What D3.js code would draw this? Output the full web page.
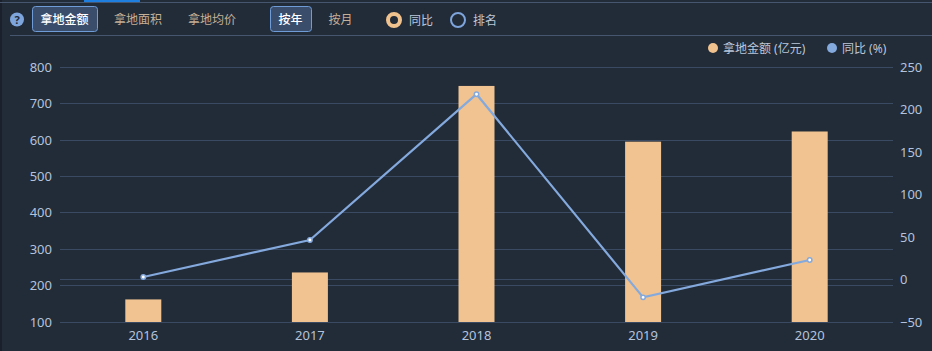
<!DOCTYPE html>
<html>
<head>
  <meta charset="utf-8">
  <title>拿地金额</title>
  <script src="https://d3js.org/d3.v7.min.js"></script>
  <style>
    html, body { margin: 0; padding: 0; background: #222b38; overflow: hidden; }
    text { font-family: "Noto Sans", "Noto Sans CJK SC", sans-serif; }
  </style>
</head>
<body>
  <svg id="chart"></svg>

  <script>
    // 数据
    var years = ["2016", "2017", "2018", "2019", "2020"];
    var amounts = [162, 236, 748, 595, 623];
    var yoy = [3, 46.5, 218, -21, 23];
    var leftTicks = [100, 200, 300, 400, 500, 600, 700, 800];
    var rightTicks = [-50, 0, 50, 100, 150, 200, 250];
    var metricTabs = ["拿地金额", "拿地面积", "拿地均价"];
    var periodTabs = ["按年", "按月"];
    var radios = ["同比", "排名"];
    var legendLabels = ["拿地金额 (亿元)", "同比 (%)"];

    var width = 932, height = 351;
    var plotLeft = 60, plotRight = 893, plotTop = 67, plotBottom = 322;

    var svg = d3.select("#chart")
      .attr("width", width)
      .attr("height", height)
      .style("display", "block");

    svg.append("rect").attr("width", width).attr("height", height).attr("fill", "#222b38");
    svg.append("rect").attr("width", 2).attr("height", height).attr("fill", "#1a212c");

    // 顶部线条
    svg.append("rect").attr("x", 0).attr("y", 2).attr("width", width).attr("height", 1).attr("fill", "#46566f");
    svg.append("rect").attr("x", 84).attr("y", 0).attr("width", 56).attr("height", 2).attr("fill", "#1e7fe0");
    svg.append("rect").attr("x", 10).attr("y", 35).attr("width", width - 10).attr("height", 1).attr("fill", "#46566f");

    // 帮助图标
    svg.append("circle").attr("cx", 17).attr("cy", 19.5).attr("r", 7).attr("fill", "#7ea6dc");
    svg.append("text").attr("x", 17).attr("y", 23.5).attr("text-anchor", "middle")
      .attr("font-size", 11).attr("font-weight", "bold").attr("fill", "#222b38").text("?");

    // 按钮
    function tabs(labels, xs, w) {
      labels.forEach(function(d, i) {
        if (i === 0) {
          svg.append("rect").attr("x", xs[i] + 0.5).attr("y", 6.5).attr("width", w).attr("height", 25)
            .attr("rx", 3).attr("fill", "#3a4e6c").attr("stroke", "#6f9bd6");
        }
        svg.append("text").attr("x", xs[i] + w / 2).attr("y", 24).attr("text-anchor", "middle")
          .attr("font-size", 12).attr("font-weight", i === 0 ? 500 : 400)
          .attr("fill", i === 0 ? "#ffffff" : "#c4b097").text(d);
      });
    }
    tabs(metricTabs, [32, 105.5, 179.5], 65);
    tabs(periodTabs, [270, 320], 41);

    // 单选
    var radioX = [394, 458];
    var radioStroke = ["#f0c28e", "#7ea6dc"];
    radios.forEach(function(d, i) {
      svg.append("circle").attr("cx", radioX[i]).attr("cy", 20).attr("r", i === 0 ? 6 : 7)
        .attr("fill", "none").attr("stroke", radioStroke[i]).attr("stroke-width", i === 0 ? 4 : 2);
      svg.append("text").attr("x", radioX[i] + 15).attr("y", 25)
        .attr("font-size", 12).attr("fill", "#bcc7d8").text(d);
    });

    // 比例尺
    var x = d3.scaleBand().domain(years).range([plotLeft, plotRight]);
    var yLeft = d3.scaleLinear().domain([100, 800]).range([plotBottom, plotTop]);
    var yRight = d3.scaleLinear().domain([-50, 250]).range([plotBottom, plotTop]);

    // 网格线: 左轴每个刻度, 右轴只有 0 线
    var gridColor = "#3a4a63";
    function crisp(y) { return Math.round(y - 0.3) + 0.5; }
    svg.append("g").selectAll("line").data(leftTicks).join("line")
      .attr("x1", plotLeft).attr("x2", plotRight)
      .attr("y1", function(d) { return crisp(yLeft(d)); })
      .attr("y2", function(d) { return crisp(yLeft(d)); })
      .attr("stroke", gridColor);
    svg.append("line")
      .attr("x1", plotLeft).attr("x2", plotRight)
      .attr("y1", crisp(yRight(0)))
      .attr("y2", crisp(yRight(0)))
      .attr("stroke", gridColor);

    // 坐标轴
    var axisColor = "#b4c3dc";
    function styleAxis(g) {
      g.select(".domain").remove();
      g.selectAll(".tick line").remove();
      g.selectAll("text").attr("fill", axisColor).attr("font-size", 13);
    }
    svg.append("g").attr("transform", "translate(" + (plotLeft - 8) + ",0)")
      .call(d3.axisLeft(yLeft).tickValues(leftTicks).tickSize(0).tickPadding(0))
      .call(styleAxis);
    svg.append("g").attr("transform", "translate(" + (plotRight + 7) + ",0)")
      .call(d3.axisRight(yRight).tickValues(rightTicks).tickSize(0).tickPadding(0))
      .call(styleAxis);
    svg.append("g").attr("transform", "translate(0," + (plotBottom + 9) + ")")
      .call(d3.axisBottom(x).tickSize(0).tickPadding(0))
      .call(styleAxis);

    // 柱子
    var barW = 36;
    svg.append("g").selectAll("rect").data(amounts).join("rect")
      .attr("x", function(d, i) { return x(years[i]) + x.bandwidth() / 2 - barW / 2; })
      .attr("y", function(d) { return yLeft(d); })
      .attr("width", barW)
      .attr("height", function(d) { return plotBottom - yLeft(d); })
      .attr("fill", "#f0c391");

    // 折线
    var line = d3.line()
      .x(function(d, i) { return x(years[i]) + x.bandwidth() / 2; })
      .y(function(d) { return yRight(d); });
    svg.append("path").datum(yoy)
      .attr("fill", "none").attr("stroke", "#84a9dd").attr("stroke-width", 2.2).attr("d", line);
    svg.append("g").selectAll("circle").data(yoy).join("circle")
      .attr("cx", function(d, i) { return x(years[i]) + x.bandwidth() / 2; })
      .attr("cy", function(d) { return yRight(d); })
      .attr("r", 2.2).attr("fill", "#ffffff").attr("stroke", "#84a9dd").attr("stroke-width", 1.5);

    // 图例
    var legendX = [713, 832];
    var legendColor = ["#f0c28e", "#84a9dd"];
    legendLabels.forEach(function(d, i) {
      svg.append("circle").attr("cx", legendX[i]).attr("cy", 48).attr("r", 5).attr("fill", legendColor[i]);
      svg.append("text").attr("x", legendX[i] + 10).attr("y", 53)
        .attr("font-size", 12).attr("fill", "#bcc7d8").text(d);
    });
  </script>
</body>
</html>
